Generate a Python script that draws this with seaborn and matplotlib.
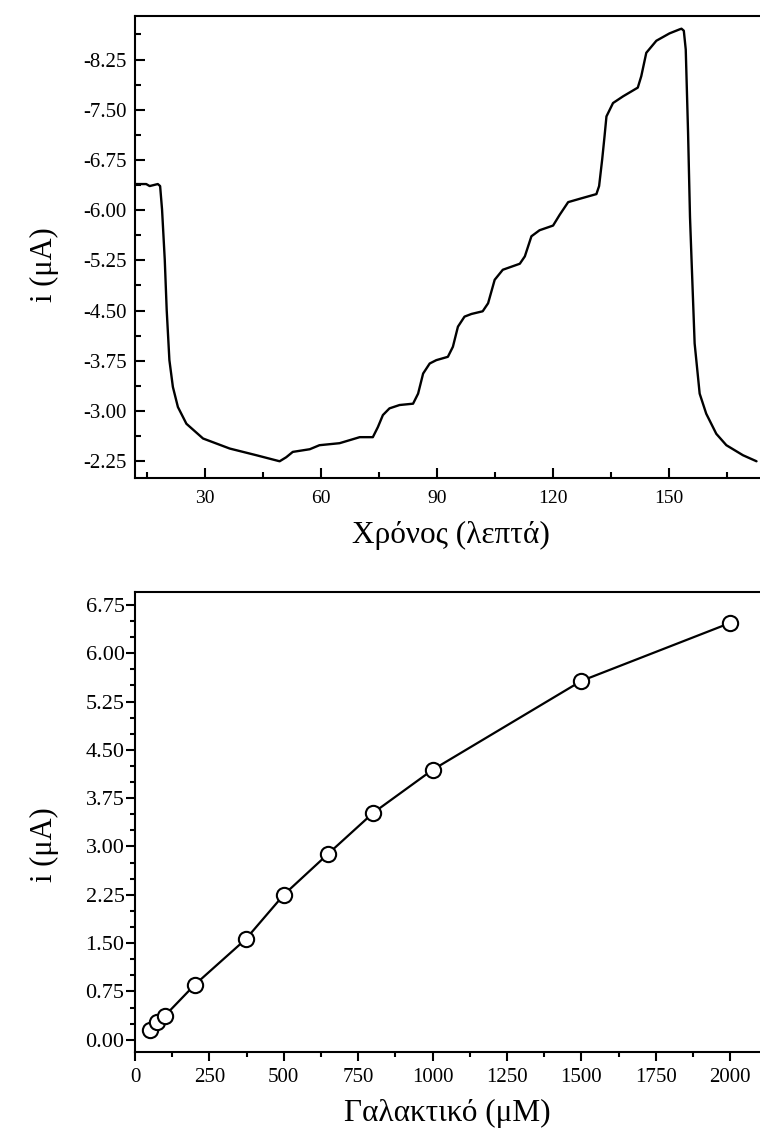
import numpy as np
import pandas as pd
import matplotlib
matplotlib.use("Agg")
import matplotlib.pyplot as plt
from matplotlib.ticker import MultipleLocator, FormatStrFormatter
import seaborn as sns

# ---- data: amperometric trace ----
time_min = [11.9, 14.9, 15.8, 17.9, 18.5, 19.0, 19.7, 20.2, 20.9, 21.8, 23.1, 25.3, 29.6,
            36.5, 43.4, 49.4, 51.1, 52.8, 57.2, 59.7, 64.9, 70.1, 73.5, 74.8, 76.1, 77.8,
            80.4, 83.9, 85.2, 86.5, 88.2, 89.9, 92.9, 94.2, 95.5, 97.2, 99.0, 101.9,
            103.3, 105.0, 107.1, 111.5, 112.8, 114.5, 116.6, 120.1, 121.8, 124.0, 127.0,
            131.3, 132.0, 132.8, 133.4, 133.9, 135.6, 138.2, 142.0, 142.9, 144.2, 146.8,
            150.2, 152.8, 153.3, 153.9, 154.4, 155.0, 155.5, 155.9, 156.7, 158.0, 159.7,
            162.3, 164.9, 169.2, 172.7]
current_uA = [-6.39, -6.39, -6.36, -6.39, -6.36, -6.01, -5.26, -4.51, -3.76, -3.36, -3.06,
              -2.81, -2.59, -2.44, -2.34, -2.25, -2.31, -2.39, -2.43, -2.49, -2.52, -2.61,
              -2.61, -2.76, -2.94, -3.04, -3.09, -3.11, -3.26, -3.56, -3.71, -3.76, -3.81,
              -3.96, -4.26, -4.41, -4.45, -4.49, -4.61, -4.96, -5.11, -5.20, -5.31, -5.61,
              -5.70, -5.77, -5.93, -6.12, -6.17, -6.24, -6.36, -6.76, -7.10, -7.40, -7.60,
              -7.70, -7.83, -8.00, -8.35, -8.53, -8.64, -8.70, -8.71, -8.68, -8.40, -7.16,
              -5.90, -5.26, -4.01, -3.26, -2.96, -2.66, -2.49, -2.34, -2.25]

# ---- data: calibration curve ----
galactose_uM = [50, 75, 100, 200, 372, 500, 650, 800, 1000, 1500, 2000]
cal_current_uA = [0.155, 0.27, 0.37, 0.85, 1.56, 2.25, 2.89, 3.52, 4.19, 5.57, 6.47]

sns.set_style("ticks")
plt.rcParams['font.family'] = ['Liberation Serif', 'DejaVu Serif']
plt.rcParams['axes.linewidth'] = 1.5
plt.rcParams['axes.edgecolor'] = 'black'
plt.rcParams['axes.labelcolor'] = 'black'
plt.rcParams['text.color'] = 'black'
plt.rcParams['xtick.color'] = 'black'
plt.rcParams['ytick.color'] = 'black'

fig = plt.figure(figsize=(7.6, 11.33), dpi=100)
ax1 = fig.add_axes([0.1776, 0.5781, 0.8224, 0.4078])
ax2 = fig.add_axes([0.1776, 0.0715, 0.8224, 0.4060])

# ---- top: current vs time ----
df1 = pd.DataFrame({"t": time_min, "i": current_uA})
sns.lineplot(data=df1, x="t", y="i", ax=ax1, color="black", linewidth=1.7, sort=False)
ax1.set_xlim(12, 173.6)
ax1.set_ylim(-2.0, -8.9)
ax1.xaxis.set_major_locator(MultipleLocator(30))
ax1.xaxis.set_minor_locator(MultipleLocator(15))
ax1.yaxis.set_major_locator(MultipleLocator(0.75))
ax1.yaxis.set_minor_locator(MultipleLocator(0.375))
ax1.yaxis.set_major_formatter(FormatStrFormatter('%.2f'))
ax1.tick_params(which='both', direction='in', width=1.5, colors='black')
ax1.tick_params(axis='x', which='major', length=7, labelsize=14, pad=8.5)
ax1.tick_params(axis='y', which='major', length=7, labelsize=15, pad=6)
ax1.tick_params(which='minor', length=4.5)
ax1.set_xlabel("Χρόνος (λεπτά)", fontsize=22.5, color='black')
ax1.set_ylabel("i (μA)", fontsize=22, color='black')
ax1.xaxis.set_label_coords(0.505, -0.093)
ax1.yaxis.set_label_coords(-0.122, 0.461)
ax1.spines['right'].set_visible(False)

# ---- bottom: calibration ----
df2 = pd.DataFrame({"c": galactose_uM, "i": cal_current_uA})
sns.lineplot(data=df2, x="c", y="i", ax=ax2, color="black", linewidth=1.6,
             marker="o", markersize=11, markerfacecolor="white",
             markeredgecolor="black", markeredgewidth=1.5)
ax2.set_xlim(0, 2100)
ax2.set_ylim(-0.19, 6.95)
ax2.xaxis.set_major_locator(MultipleLocator(250))
ax2.xaxis.set_minor_locator(MultipleLocator(125))
ax2.yaxis.set_major_locator(MultipleLocator(0.75))
ax2.yaxis.set_minor_locator(MultipleLocator(0.25))
ax2.yaxis.set_major_formatter(FormatStrFormatter('%.2f'))
ax2.tick_params(which='both', direction='out', width=1.5, colors='black')
ax2.tick_params(axis='x', which='major', length=6.5, labelsize=15, pad=5)
ax2.tick_params(axis='y', which='major', length=6.5, labelsize=16, pad=1)
ax2.tick_params(which='minor', length=3.5)
ax2.set_xlabel("Γαλακτικό (μM)", fontsize=22.5, color='black')
ax2.set_ylabel("i (μA)", fontsize=22, color='black')
ax2.xaxis.set_label_coords(0.5, -0.101)
ax2.yaxis.set_label_coords(-0.122, 0.45)
ax2.spines['right'].set_visible(False)

fig.savefig("out.png", dpi=100)
